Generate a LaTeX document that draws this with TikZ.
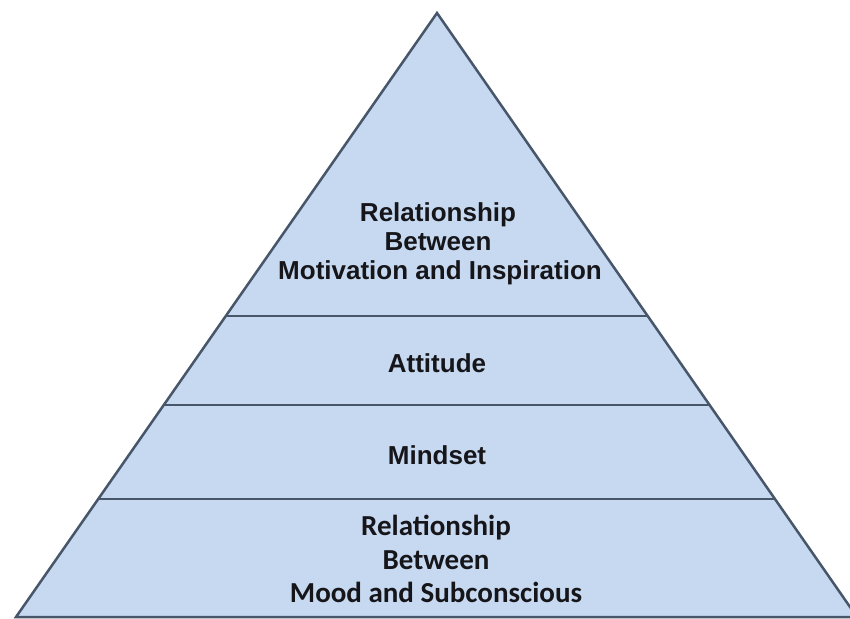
\documentclass[tikz,border=0pt]{standalone}
\usepackage{fontspec}
\setmainfont{Liberation Sans}
\newfontfamily\calfont{Carlito}
\usetikzlibrary{calc}
\definecolor{pyrfill}{RGB}{198,217,240}
\definecolor{pyredge}{RGB}{72,86,106}
\definecolor{txt}{RGB}{22,22,26}
\begin{document}
\begin{tikzpicture}[x=1pt,y=1pt,
  edge/.style={draw=pyredge,line width=2.5pt},
  arial/.style={anchor=base,inner sep=0pt,text=txt,font=\fontsize{26}{30}\selectfont\bfseries},
  calib/.style={anchor=base,inner sep=0pt,text=txt,font=\fontsize{29}{34}\calfont\bfseries}]
\useasboundingbox (0,0) rectangle (850,618);
\fill[white] (0,0) rectangle (850,618);
\coordinate (A) at (437,605);
\coordinate (L) at (16,1);
\coordinate (R) at (857,1);
\path[fill=pyrfill,edge,line join=miter] (L) -- (A) -- (R) -- cycle;
% dividers
\coordinate (l1) at ($(L)!{(302-1)/604}!(A)$);
\coordinate (r1) at ($(R)!{(302-1)/604}!(A)$);
\coordinate (l2) at ($(L)!{(213-1)/604}!(A)$);
\coordinate (r2) at ($(R)!{(213-1)/604}!(A)$);
\coordinate (l3) at ($(L)!{(119-1)/604}!(A)$);
\coordinate (r3) at ($(R)!{(119-1)/604}!(A)$);
\draw[edge] (l1) -- (r1);
\draw[edge] (l2) -- (r2);
\draw[edge] (l3) -- (r3);
% texts
\node[arial] (t1) at (438,396) {Relationship};
\node[arial] (t2) at (438,367) {Between};
\node[arial] (t3) at (440,338) {Motivation and Inspiration};
\node[arial] (att) at (437,245) {Attitude};
\node[arial] (mind) at (437,153) {Mindset};
\node[calib] (b1) at (436,83) {Relationship};
\node[calib] (b2) at (436,49) {Between};
\node[calib] (b3) at (436,16) {Mood and Subconscious};
\end{tikzpicture}
\end{document}
